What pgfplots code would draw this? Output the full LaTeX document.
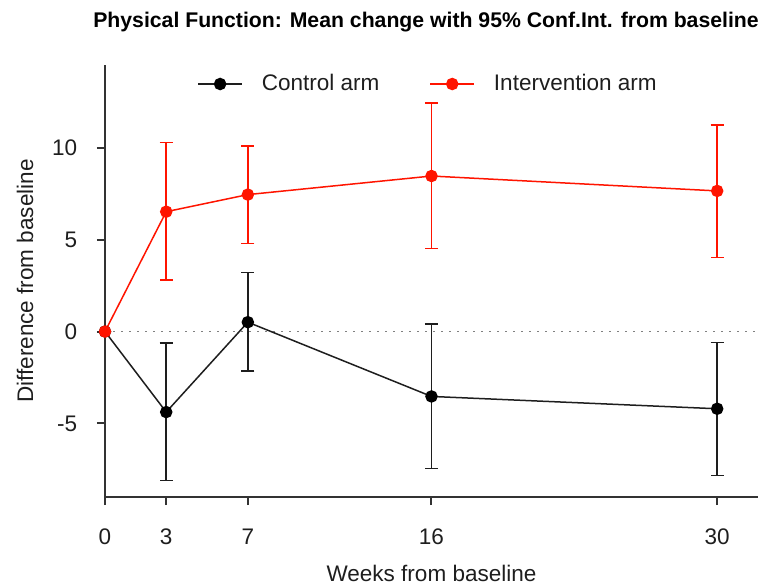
\documentclass[border=0pt]{standalone}
\usepackage{pgfplots}
\usepackage{pgfplotstable}
\pgfplotsset{compat=1.18}
\usepackage{fontspec}
\setmainfont{Liberation Sans}
\definecolor{ired}{RGB}{255,20,0}
\definecolor{cblk}{RGB}{30,30,30}
\pgfplotstableread{
x y lo hi
3 -4.38 -8.11 -0.63
7 0.51 -2.14 3.21
16 -3.53 -7.46 0.42
30 -4.20 -7.83 -0.60
}\ctrlerr
\pgfplotstableread{
x y
0 0
3 -4.38
7 0.51
16 -3.53
30 -4.20
}\ctrl
\pgfplotstableread{
x y lo hi
3 6.52 2.81 10.29
7 7.45 4.78 10.09
16 8.46 4.53 12.42
30 7.65 4.04 11.23
}\interr
\pgfplotstableread{
x y
0 0
3 6.52
7 7.45
16 8.46
30 7.65
}\inter
\begin{document}
\fontsize{11.3}{13.5}\selectfont
\begin{tikzpicture}
\begin{axis}[
  scale only axis, width=326.5bp, height=216bp,
  xmin=0, xmax=32, ymin=-9, ymax=14.5,
  axis x line*=bottom, axis y line*=left,
  axis line style={line width=1bp, black!80},
  xtick={0,3,7,16,30}, ytick={-5,0,5,10},
  tick align=outside, major tick length=4bp,
  tick style={line width=1bp, black!80},
  /pgf/number format/assume math mode=true,
  ticklabel style={font=\fontsize{11.3}{13.5}\selectfont, text=cblk},
  xticklabel shift=8bp,
  yticklabel shift=6bp,
  xlabel={Weeks from baseline},
  ylabel={Difference from baseline},
  label style={font=\fontsize{11.3}{13.5}\selectfont, text=cblk},
  xlabel style={at={(axis description cs:0.5,-0.176)}, anchor=center},
  ylabel style={at={(axis description cs:-0.1225,0.5)}, anchor=center},
  legend image code/.code={\draw[mark repeat=2,mark phase=2,#1] plot coordinates {(0bp,0bp) (11bp,0bp) (22bp,0bp)};},
  legend style={draw=none, fill=none, legend columns=2,
    at={(axis description cs:0.1317,0.956)}, anchor=west,
    font=\fontsize{11.3}{13.5}\selectfont, text=cblk,
    /tikz/every odd column/.append style={column sep=8.5bp},
    /tikz/every even column/.append style={column sep=24bp},
    nodes={inner sep=1bp}},
  legend cell align=left,
]
\addplot[forget plot, gray, line width=0.8bp, dash pattern=on 0.8bp off 3.2bp] coordinates {(0,0) (32,0)};
\addplot[forget plot, only marks, mark=none,
  error bars/.cd, y dir=both, y explicit,
  error bar style={cblk, line width=0.75bp},
  error mark options={cblk, line width=0.75bp, mark size=3.25bp, rotate=90}]
  table[x=x, y=y, y error plus expr=\thisrow{hi}-\thisrow{y}, y error minus expr=\thisrow{y}-\thisrow{lo}] {\ctrlerr};
\addplot[cblk, line width=0.75bp, mark=*, mark size=2.75bp, mark options={black, solid}] table[x=x, y=y] {\ctrl};
\addlegendentry{Control arm}
\addplot[forget plot, only marks, mark=none,
  error bars/.cd, y dir=both, y explicit,
  error bar style={ired, line width=0.75bp},
  error mark options={ired, line width=0.75bp, mark size=3.25bp, rotate=90}]
  table[x=x, y=y, y error plus expr=\thisrow{hi}-\thisrow{y}, y error minus expr=\thisrow{y}-\thisrow{lo}] {\interr};
\addplot[ired, line width=0.75bp, mark=*, mark size=2.75bp, mark options={ired, solid}] table[x=x, y=y] {\inter};
\addlegendentry{Intervention arm}
\end{axis}
\node[font=\bfseries\fontsize{10.65}{12.5}\selectfont, text=black] at (160.5bp,237.5bp) {Physical Function: Mean change with 95\% Conf.Int. from baseline};
\pgfresetboundingbox
\path (-52.5bp,-43.5bp) rectangle (332.5bp,248.5bp);
\end{tikzpicture}
\end{document}
